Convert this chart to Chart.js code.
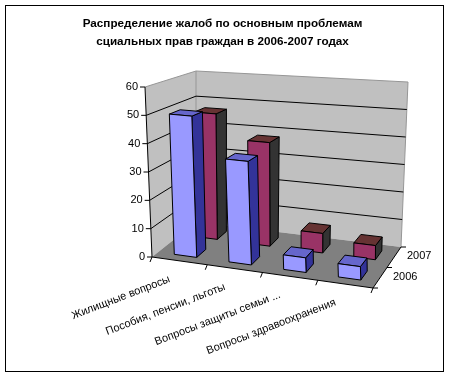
<!DOCTYPE html>
<html lang="ru">
<head>
  <meta charset="UTF-8">
  <title>Распределение жалоб</title>
  <script src="https://cdn.jsdelivr.net/npm/chart.js"></script>
  <style>
    body { margin: 0; background: #fff; }
    #wrap { position: absolute; left: 0; top: 0; width: 450px; height: 378px; }
  </style>
</head>
<body>
<div id="wrap"><canvas id="chart" width="450" height="378"></canvas></div>
<script>
  const titleLines = ['Распределение жалоб по основным проблемам', 'сциальных прав граждан в 2006-2007 годах'];
  const categories = ['Жилищные вопросы', 'Пособия, пенсии, льготы', 'Вопросы защиты семьи ...', 'Вопросы здравоохранения'];
  const values2006 = [50, 36, 5, 4.5];
  const values2007 = [47, 38, 7, 5];
  const axisMax = 60;
  const axisStep = 10;

  // where the corners of the 3D box land on the page
  const box = {
    frontLeft:  { bottom: [152, 257], top: [145, 87] },
    frontRight: { bottom: [373, 288], top: [366, 106] },
    backLeft:   { bottom: [196, 222], top: [196, 71] },
    backRight:  { bottom: [401, 247], top: [408, 82] }
  };

  // u along the categories, d into the depth, w up the value axis, all 0..1
  function project(u, d, w) {
    const mix = (a, b, t) => [a[0] + (b[0] - a[0]) * t, a[1] + (b[1] - a[1]) * t];
    const corner = c => mix(c.bottom, c.top, w);
    return mix(
      mix(corner(box.frontLeft), corner(box.frontRight), u),
      mix(corner(box.backLeft), corner(box.backRight), u),
      d
    );
  }

  function poly(ctx, pts, fill, stroke) {
    ctx.beginPath();
    pts.forEach((p, i) => i ? ctx.lineTo(p[0], p[1]) : ctx.moveTo(p[0], p[1]));
    ctx.closePath();
    if (fill) { ctx.fillStyle = fill; ctx.fill(); }
    if (stroke) { ctx.strokeStyle = stroke; ctx.lineWidth = 1; ctx.stroke(); }
  }

  function line(ctx, a, b, color) {
    ctx.beginPath();
    ctx.moveTo(a[0], a[1]);
    ctx.lineTo(b[0], b[1]);
    ctx.strokeStyle = color;
    ctx.lineWidth = 1;
    ctx.stroke();
  }

  // bar controller that takes each bar's size from the scales and draws it as a block
  class BlockController extends Chart.BarController {
    draw() {
      const ctx = this.chart.ctx;
      const area = this.chart.chartArea;
      const ds = this.getDataset();
      this._cachedMeta.data.forEach(bar => {
        const u0 = (bar.x - bar.width / 2 - area.left) / area.width;
        const u1 = (bar.x + bar.width / 2 - area.left) / area.width;
        const w = (bar.base - bar.y) / area.height;
        const d0 = ds.depthFront, d1 = ds.depthBack;
        poly(ctx, [project(u1, d0, 0), project(u1, d1, 0), project(u1, d1, w), project(u1, d0, w)], ds.sideColor, '#000');
        poly(ctx, [project(u0, d0, w), project(u1, d0, w), project(u1, d1, w), project(u0, d1, w)], ds.topColor, '#000');
        poly(ctx, [project(u0, d0, 0), project(u1, d0, 0), project(u1, d0, w), project(u0, d0, w)], ds.frontColor, '#000');
      });
    }
  }
  BlockController.id = 'block';
  BlockController.defaults = Chart.BarController.defaults;
  BlockController.overrides = Chart.BarController.overrides;
  Chart.register(BlockController);

  const room = {
    id: 'room',
    beforeDraw(chart) {
      const ctx = chart.ctx;
      ctx.save();
      ctx.strokeStyle = '#000';
      ctx.lineWidth = 1;
      ctx.strokeRect(5.5, 5.5, 438, 366);
      ctx.restore();
    },
    beforeDatasetsDraw(chart) {
      const ctx = chart.ctx;
      const yScale = chart.scales.y;
      const xScale = chart.scales.x;
      const area = chart.chartArea;
      const level = v => (yScale.getPixelForValue(0) - yScale.getPixelForValue(v)) / area.height;

      ctx.save();
      poly(ctx, [project(0, 0, 0), project(0, 1, 0), project(0, 1, 1), project(0, 0, 1)], '#c0c0c0');
      poly(ctx, [project(0, 1, 0), project(1, 1, 0), project(1, 1, 1), project(0, 1, 1)], '#c0c0c0');
      poly(ctx, [project(0, 0, 0), project(1, 0, 0), project(1, 1, 0), project(0, 1, 0)], '#808080');

      // wall edges
      line(ctx, project(0, 0, 1), project(0, 1, 1), '#969696');
      line(ctx, project(0, 1, 1), project(1, 1, 1), '#969696');
      line(ctx, project(1, 1, 1), project(1, 1, 0), '#969696');
      line(ctx, project(0, 1, 0), project(0, 1, 1), '#969696');

      // gridlines and the value axis
      ctx.font = '11px "Liberation Sans"';
      ctx.fillStyle = '#000';
      ctx.textAlign = 'right';
      ctx.textBaseline = 'middle';
      yScale.ticks.forEach(t => {
        const w = level(t.value);
        if (t.value > 0 && t.value < axisMax) {
          line(ctx, project(0, 0, w), project(0, 1, w), '#000');
          line(ctx, project(0, 1, w), project(1, 1, w), '#000');
        }
        const p = project(0, 0, w);
        line(ctx, [p[0] - 5, p[1]], p, '#000');
        ctx.fillStyle = '#000';
        ctx.fillText(String(t.value), p[0] - 7, p[1]);
      });
      line(ctx, project(0, 0, 0), project(0, 0, 1), '#000');

      // floor edges and their ticks
      line(ctx, project(0, 0, 0), project(1, 0, 0), '#000');
      line(ctx, project(1, 0, 0), project(1, 1, 0), '#000');
      for (let i = 0; i <= categories.length; i++) {
        const p = project(i / categories.length, 0, 0);
        line(ctx, p, [p[0] - 2, p[1] + 5], '#000');
      }
      [0, 0.5, 1].forEach(d => {
        const p = project(1, d, 0);
        line(ctx, p, [p[0] + 5, p[1]], '#000');
      });

      // series names beside the depth axis
      ctx.textAlign = 'left';
      chart.data.datasets.forEach(ds => {
        const p = project(1, (ds.depthFront + ds.depthBack) / 2, 0);
        ctx.fillStyle = '#000';
        ctx.fillText(ds.label, p[0] + 13, p[1] - 1);
      });

      // slanted category names
      ctx.textAlign = 'right';
      categories.forEach((name, i) => {
        const u = (xScale.getPixelForValue(i) - area.left) / area.width;
        const p = project(u, 0, 0);
        ctx.save();
        ctx.translate(p[0] - 10, p[1] + 18);
        ctx.rotate(-21 * Math.PI / 180);
        ctx.fillStyle = '#000';
        ctx.fillText(name, 0, 0);
        ctx.restore();
      });
      ctx.restore();
    }
  };

  document.addEventListener('DOMContentLoaded', function () {
    const ctx = document.getElementById('chart').getContext('2d');
    new Chart(ctx, {
      type: 'block',
      data: {
        labels: categories,
        datasets: [
          { label: '2006', data: values2006, depthFront: 0.14, depthBack: 0.36,
            frontColor: '#9999ff', sideColor: '#333399', topColor: '#6666cc' },
          { label: '2007', data: values2007, depthFront: 0.64, depthBack: 0.86,
            frontColor: '#993366', sideColor: '#333333', topColor: '#663333' }
        ]
      },
      options: {
        responsive: false,
        animation: false,
        grouped: false,
        categoryPercentage: 1,
        barPercentage: 0.41,
        layout: { padding: { top: 5, right: 5, left: 0, bottom: 8 } },
        scales: {
          x: { type: 'category', display: false },
          y: { type: 'linear', display: false, min: 0, max: axisMax, ticks: { stepSize: axisStep } }
        },
        plugins: {
          legend: { display: false },
          tooltip: { enabled: false },
          title: {
            display: true,
            text: titleLines,
            color: '#000',
            font: { family: '"Liberation Sans"', size: 11.7, weight: 'bold', lineHeight: 1.5 }
          }
        }
      },
      plugins: [room]
    });
  });
</script>
</body>
</html>
